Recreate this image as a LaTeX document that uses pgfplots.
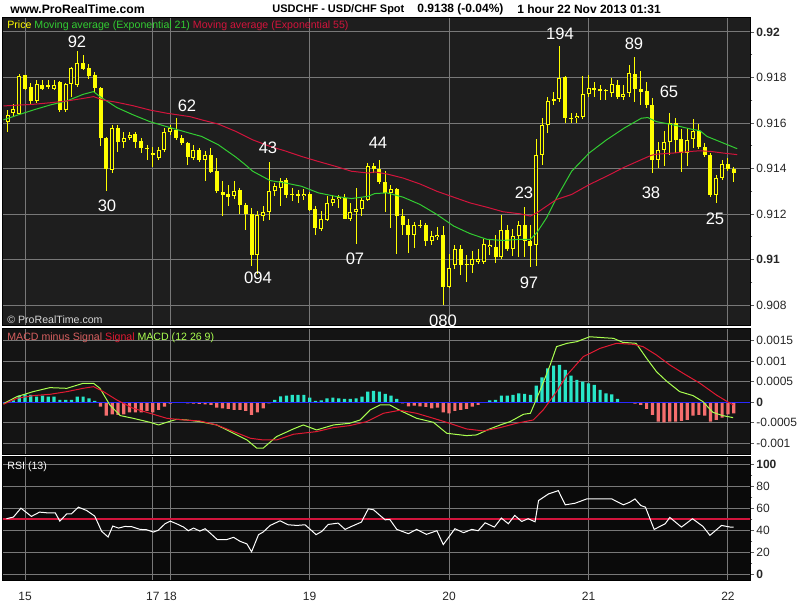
\documentclass[border=0pt]{standalone}
\usepackage{pgfplots}
\pgfplotsset{compat=1.18}
\usepackage{pgfplotstable}
\usepackage{fontspec}
\setmainfont{Liberation Sans}

\definecolor{pricebg}{RGB}{30,30,30}
\definecolor{macdbg}{RGB}{20,20,20}
\definecolor{rsibg}{RGB}{10,10,10}
\definecolor{gridc}{RGB}{120,120,120}
\definecolor{candle}{RGB}{255,255,0}
\definecolor{emagreen}{RGB}{50,205,50}
\definecolor{emared}{RGB}{210,20,60}
\definecolor{macdline}{RGB}{170,255,80}
\definecolor{sigline}{RGB}{225,25,50}
\definecolor{histpos}{RGB}{40,230,200}
\definecolor{histneg}{RGB}{245,110,110}
\definecolor{zeroblue}{RGB}{40,40,255}
\definecolor{legsalmon}{RGB}{215,95,95}

% hourly candles, x = hours from 15 Nov 00:00 (weekend removed)
\pgfplotstableread{
x o h l c
-3 0.91606 0.91657 0.91560 0.91638
-2 0.91643 0.91687 0.91628 0.91662
-1 0.91643 0.91815 0.91636 0.91810
0 0.91810 0.91813 0.91745 0.91752
1 0.91759 0.91778 0.91679 0.91697
2 0.91697 0.91789 0.91687 0.91770
3 0.91770 0.91789 0.91745 0.91752
4 0.91767 0.91789 0.91749 0.91759
5 0.91752 0.91789 0.91745 0.91770
6 0.91778 0.91784 0.91650 0.91657
7 0.91657 0.91778 0.91650 0.91770
8 0.91770 0.91847 0.91716 0.91840
9 0.91770 0.91920 0.91759 0.91866
10 0.91866 0.91898 0.91832 0.91840
11 0.91843 0.91861 0.91796 0.91808
12 0.91810 0.91825 0.91738 0.91755
13 0.91755 0.91759 0.91497 0.91536
14 0.91536 0.91540 0.91300 0.91400
15 0.91395 0.91592 0.91380 0.91577
16 0.91577 0.91592 0.91475 0.91519
17 0.91519 0.91563 0.91490 0.91536
18 0.91536 0.91563 0.91526 0.91551
19 0.91551 0.91563 0.91490 0.91519
20 0.91522 0.91533 0.91468 0.91490
21 0.91493 0.91504 0.91439 0.91487
22 0.91468 0.91497 0.91410 0.91461
23 0.91449 0.91497 0.91439 0.91482
24 0.91482 0.91577 0.91475 0.91560
25 0.91560 0.91592 0.91548 0.91577
26 0.91570 0.91620 0.91526 0.91536
27 0.91536 0.91548 0.91504 0.91512
28 0.91512 0.91519 0.91417 0.91449
29 0.91449 0.91504 0.91439 0.91482
30 0.91482 0.91493 0.91431 0.91439
31 0.91439 0.91475 0.91344 0.91461
32 0.91461 0.91490 0.91380 0.91388
33 0.91391 0.91446 0.91293 0.91300
34 0.91300 0.91344 0.91191 0.91286
35 0.91290 0.91326 0.91235 0.91278
36 0.91278 0.91344 0.91264 0.91303
37 0.91305 0.91315 0.91201 0.91239
38 0.91242 0.91249 0.91133 0.91201
39 0.91201 0.91227 0.90972 0.91020
40 0.91020 0.91213 0.90940 0.91195
41 0.91191 0.91235 0.91169 0.91210
42 0.91210 0.91430 0.91176 0.91303
43 0.91303 0.91337 0.91278 0.91322
44 0.91315 0.91358 0.91235 0.91347
45 0.91351 0.91358 0.91271 0.91286
46 0.91289 0.91318 0.91259 0.91283
47 0.91289 0.91307 0.91249 0.91278
48 0.91278 0.91312 0.91264 0.91289
49 0.91289 0.91300 0.91216 0.91220
50 0.91224 0.91235 0.91108 0.91137
51 0.91137 0.91213 0.91125 0.91181
52 0.91176 0.91278 0.91169 0.91249
53 0.91249 0.91283 0.91235 0.91268
54 0.91264 0.91283 0.91227 0.91274
55 0.91271 0.91286 0.91176 0.91181
56 0.91181 0.91249 0.91169 0.91210
57 0.91210 0.91315 0.91070 0.91224
58 0.91224 0.91271 0.91191 0.91264
59 0.91264 0.91424 0.91259 0.91410
60 0.91410 0.91424 0.91380 0.91400
61 0.91400 0.91440 0.91332 0.91341
62 0.91341 0.91388 0.91210 0.91293
63 0.91293 0.91329 0.91140 0.91312
64 0.91312 0.91315 0.91026 0.91191
65 0.91191 0.91220 0.91108 0.91154
66 0.91154 0.91176 0.91030 0.91108
67 0.91108 0.91166 0.91052 0.91154
68 0.91154 0.91176 0.91137 0.91147
69 0.91154 0.91162 0.91060 0.91081
70 0.91084 0.91125 0.91067 0.91103
71 0.91099 0.91143 0.91089 0.91111
72 0.91111 0.91147 0.90800 0.90880
73 0.90880 0.91023 0.90877 0.90962
74 0.90976 0.91067 0.90958 0.91045
75 0.91045 0.91067 0.90933 0.90976
76 0.90982 0.91023 0.90904 0.90976
77 0.90976 0.91038 0.90943 0.91001
78 0.90991 0.91045 0.90982 0.91001
79 0.90991 0.91089 0.90982 0.91070
80 0.91055 0.91089 0.91023 0.91067
81 0.91055 0.91111 0.90987 0.91011
82 0.91011 0.91195 0.91001 0.91133
83 0.91133 0.91154 0.91038 0.91049
84 0.91049 0.91137 0.91016 0.91103
85 0.91103 0.91169 0.91011 0.91154
86 0.91154 0.91230 0.91009 0.91084
87 0.91084 0.91154 0.90970 0.91060
88 0.91067 0.91531 0.90972 0.91461
89 0.91461 0.91621 0.91417 0.91592
90 0.91592 0.91716 0.91555 0.91697
91 0.91697 0.91738 0.91679 0.91705
92 0.91705 0.91940 0.91691 0.91800
93 0.91803 0.91806 0.91600 0.91621
94 0.91621 0.91643 0.91600 0.91624
95 0.91621 0.91643 0.91600 0.91633
96 0.91628 0.91810 0.91621 0.91730
97 0.91730 0.91810 0.91716 0.91755
98 0.91755 0.91781 0.91716 0.91745
99 0.91749 0.91767 0.91701 0.91740
100 0.91745 0.91752 0.91701 0.91743
101 0.91730 0.91799 0.91716 0.91770
102 0.91770 0.91789 0.91708 0.91716
103 0.91716 0.91770 0.91701 0.91730
104 0.91730 0.91857 0.91716 0.91818
105 0.91818 0.91890 0.91694 0.91749
106 0.91749 0.91828 0.91679 0.91738
107 0.91740 0.91781 0.91665 0.91679
108 0.91679 0.91708 0.91380 0.91439
109 0.91439 0.91519 0.91402 0.91482
110 0.91482 0.91566 0.91410 0.91519
111 0.91519 0.91647 0.91461 0.91600
112 0.91600 0.91621 0.91468 0.91526
113 0.91531 0.91577 0.91388 0.91468
114 0.91468 0.91577 0.91410 0.91526
115 0.91531 0.91621 0.91490 0.91566
116 0.91566 0.91595 0.91487 0.91497
117 0.91497 0.91512 0.91453 0.91461
118 0.91461 0.91468 0.91274 0.91283
119 0.91286 0.91373 0.91250 0.91358
120 0.91358 0.91439 0.91351 0.91420
121 0.91420 0.91446 0.91388 0.91400
122 0.91400 0.91405 0.91341 0.91380
}\candles

\pgfplotsset{
  panel/.style={
    scale only axis, width=373.5pt, anchor=north west,
    xmin=-3.79, xmax=124.8,
    axis line style={black, line width=0.5pt},
    xtick={0,22,25,49,73,97,121}, xticklabels={},
    xtick style={draw=none},
    ytick pos=right, yticklabel pos=right,
    tick align=outside,
    major tick length=2pt, minor tick length=1.2pt,
    ytick style={draw=black!65, line width=0.4pt},
    grid=major,
    major grid style={draw=gridc, line width=0.5pt},
    scaled ticks=false,
    tick label style={font=\fontsize{6}{7}\selectfont, text=black!85},
    yticklabel style={inner xsep=1pt},
  },
  candlebar/.style={draw=none, mark=none, error bars/.cd, y dir=both, y explicit,
    error mark=none, error bar style={#1}},
}

\begin{document}
\begin{tikzpicture}
\fill[white] (0,0) rectangle (400pt,300pt);

% price panel
\begin{axis}[panel, at={(1.5pt,291pt)}, height=154pt,
  ymin=0.90708, ymax=0.920615,
  axis background/.style={fill=pricebg},
  ytick={0.908,0.91,0.912,0.914,0.916,0.918,0.92},
  yticklabels={0.908,\textbf{0.91},0.912,0.914,0.916,0.918,\textbf{0.92}},
  minor ytick={0.909,0.911,0.913,0.915,0.917,0.919}]
% wicks
\addplot[candlebar={draw=candle, line width=0.5pt}]
  table[x=x, y expr={(\thisrow{h}+\thisrow{l})/2},
        y error expr={(\thisrow{h}-\thisrow{l})/2}] {\candles};
% bodies
\addplot[candlebar={draw=candle, line width=2pt}]
  table[x=x, y expr={(\thisrow{o}+\thisrow{c})/2},
        y error expr={max(abs(\thisrow{c}-\thisrow{o})/2,0.000022)}] {\candles};
% hollow inside of rising candles
\addplot[candlebar={draw=pricebg, line width=1pt}]
  table[x=x, y expr={(\thisrow{o}+\thisrow{c})/2},
        y error expr={max((\thisrow{c}-\thisrow{o})/2-0.000044,0)}] {\candles};
% EMA 21
\addplot[emagreen, line width=0.5pt] coordinates {
(-3.7,0.91614) (-0.9,0.91638) (1.4,0.91657) (4.3,0.91679) (7.2,0.91697) (10,0.91726)
(11.8,0.91738) (12.9,0.91716) (15.8,0.91668) (18.6,0.91636) (21.5,0.91606) (24.4,0.91584)
(28.4,0.91555) (30.4,0.91541) (33.3,0.91504) (36.3,0.91450) (38,0.91415) (39.2,0.91388)
(42.2,0.91347) (44.7,0.91337) (47.6,0.91322) (50.5,0.91293) (53.4,0.91278) (56.2,0.91268)
(59.1,0.91278) (60.2,0.91290) (62.3,0.91293) (65.1,0.91274) (68,0.91242) (70.9,0.91198)
(73.8,0.91147) (76.6,0.91114) (79.5,0.91089) (82.3,0.91084) (85.2,0.91089) (87,0.91089)
(88.1,0.91118) (89.8,0.91184) (91.5,0.91271) (94.1,0.91388) (97.1,0.91468) (100.1,0.91526)
(103.1,0.91577) (106.1,0.91621) (107.2,0.91624) (108.7,0.91606) (111.6,0.91592) (114.5,0.91574)
(116.2,0.91566) (117.4,0.91541) (120.2,0.91512) (122.6,0.91487)};
% EMA 55
\addplot[emared, line width=0.5pt] coordinates {
(-3.7,0.91675) (-0.9,0.91679) (1.4,0.91682) (4.3,0.91689) (7.2,0.91697) (10,0.91708)
(11.8,0.91716) (13.5,0.91701) (15.8,0.91691) (18.6,0.91676) (21.5,0.91657) (24.4,0.91643)
(28.4,0.91628) (30.4,0.91614) (33.3,0.91595) (36.3,0.91563) (39.2,0.91526) (42.2,0.91497)
(44.7,0.91478) (47.6,0.91453) (50.5,0.91431) (53.4,0.91410) (56.2,0.91388) (59.1,0.91380)
(60.2,0.91385) (62.3,0.91376) (65.1,0.91358) (68,0.91332) (70.9,0.91300) (73.8,0.91274)
(76.6,0.91249) (79.5,0.91230) (82.3,0.91210) (85.2,0.91201) (87,0.91191) (88.1,0.91205)
(89.8,0.91235) (91.5,0.91264) (94.1,0.91286) (97.1,0.91329) (100.1,0.91366) (103.1,0.91405)
(106.1,0.91439) (107.8,0.91458) (108.7,0.91463) (111.6,0.91468) (114.5,0.91475) (116.2,0.91478)
(118.1,0.91475) (120.2,0.91468) (122.6,0.91461)};
\end{axis}

% MACD panel
\begin{axis}[panel, at={(1.5pt,135.5pt)}, height=63pt,
  ymin=-0.001286, ymax=0.001789,
  axis background/.style={fill=macdbg},
  ytick={-0.001,-0.0005,0,0.0005,0.001,0.0015},
  yticklabels={-0.001,-0.0005,\textbf{0},0.0005,0.001,0.0015}]
\addplot[ybar, bar width=0.55, bar shift=0pt, fill=histpos, draw=none] coordinates {
(-3,0.000016) (-2,0.000049) (-1,0.000163) (0,0.000195) (1,0.000179) (2,0.000138) (3,0.000163)
(4,0.000138) (5,0.000138) (6,0.000057) (7,0.000057) (8,0.000057) (9,0.000138) (10,0.000138)
(11,0.000098) (12,0.000033)
(43,0.000057) (44,0.000146) (45,0.000163) (46,0.000179) (47,0.000179) (48,0.000179) (49,0.000114)
(50,0.000033) (51,0.000049) (52,0.000098) (53,0.000114) (54,0.000098) (55,0.000081) (56,0.000081)
(57,0.000098) (58,0.000138) (59,0.00026) (60,0.000276) (61,0.00026) (62,0.000203) (63,0.000163)
(64,0.000081)
(80,0.000049) (81,0.000057) (82,0.000163) (83,0.000163) (84,0.000179) (85,0.00022) (86,0.000203)
(87,0.000179) (88,0.000407) (89,0.00061) (90,0.000829) (91,0.000894) (92,0.000911) (93,0.000789)
(94,0.00065) (95,0.000545) (96,0.000504) (97,0.000463) (98,0.000423) (99,0.000301) (100,0.00022)
(101,0.000195) (102,0.000081)};
\addplot[ybar, bar width=0.55, bar shift=0pt, fill=histneg, draw=none] coordinates {
(13,-0.000106) (14,-0.000325) (15,-0.000293) (16,-0.000309) (17,-0.000293) (18,-0.000244)
(19,-0.000244) (20,-0.000244) (21,-0.000211) (22,-0.000244) (23,-0.000187) (24,-0.000106)
(25,-0.000033) (26,-0.000016) (28,-0.000024) (29,-0.000033) (30,-0.000041) (31,-0.000049)
(32,-0.000065) (33,-0.00013) (34,-0.000146) (35,-0.000163) (36,-0.000187) (37,-0.000187)
(38,-0.000211) (39,-0.000309) (40,-0.000244) (41,-0.000146) (42,-0.000024)
(65,-0.000024) (66,-0.000098) (67,-0.000081) (68,-0.000098) (69,-0.000114) (70,-0.000146)
(71,-0.00013) (72,-0.000244) (73,-0.000268) (74,-0.000211) (75,-0.000187) (76,-0.000163)
(77,-0.000106) (78,-0.000065)
(105,-0.000033) (106,-0.000065) (107,-0.000163) (108,-0.000309) (109,-0.000472) (110,-0.000488)
(111,-0.000472) (112,-0.000472) (113,-0.000455) (114,-0.000431) (115,-0.000325) (116,-0.000309)
(117,-0.000325) (118,-0.000472) (119,-0.000431) (120,-0.000374) (121,-0.000293) (122,-0.000268)};
\addplot[zeroblue, line width=0.5pt] coordinates {(-4,0) (125,0)};
% MACD line
\addplot[macdline, line width=0.5pt] coordinates {
(-3.7,-0.000033) (-1.4,0.000138) (1.4,0.00026) (4.3,0.000358) (7.2,0.000341) (10,0.000463)
(11.8,0.000463) (12.9,0.000341) (14.6,-0.000065) (16.4,-0.000325) (18.6,-0.00039) (21.5,-0.000488)
(23,-0.000553) (24.4,-0.000488) (26.1,-0.000415) (27.8,-0.000431) (30.1,-0.000472) (33,-0.000553)
(35.9,-0.000756) (38.2,-0.000919) (39.9,-0.00112) (41,-0.00112) (43.3,-0.000837) (46.2,-0.00065)
(47.9,-0.000553) (50.2,-0.000675) (53.1,-0.000553) (55.9,-0.000512) (57.7,-0.000431) (59.4,-0.000187)
(61.1,-0.000065) (62.8,-0.000065) (64.5,-0.000195) (67.4,-0.00039) (70.3,-0.000488) (72.6,-0.000756)
(76,-0.000813) (77.7,-0.000797) (80,-0.00065) (81.8,-0.000553) (83.5,-0.000472) (85.8,-0.000293)
(87,-0.000268) (88.7,0.000301) (90.4,0.000911) (91.5,0.001358) (93.3,0.001439) (95,0.00148)
(97.2,0.0016) (99.5,0.001577) (101.3,0.001561) (102.9,0.001463) (105.2,0.001439) (107,0.001073)
(108.7,0.000748) (110.4,0.00052) (112.7,0.00026) (115,0.000163) (116.7,0.000016) (118.4,-0.000244)
(120.1,-0.000325) (121.9,-0.000374)};
% signal line
\addplot[sigline, line width=0.5pt] coordinates {
(-3.7,-0.000049) (-1.4,0.000098) (1.4,0.000163) (4.3,0.000195) (7.2,0.00026) (10,0.000341)
(11.8,0.000382) (13.5,0.00026) (15.8,0.000057) (18.6,-0.000146) (21.5,-0.000268) (24.4,-0.00039)
(27.3,-0.000431) (30.1,-0.000455) (33,-0.000553) (35.9,-0.000715) (38.8,-0.000878) (41,-0.000919)
(43.3,-0.000919) (46.2,-0.00078) (50.2,-0.000715) (53.1,-0.000618) (55.9,-0.000569) (58.8,-0.000472)
(61.7,-0.000268) (64.5,-0.000195) (67.4,-0.000268) (70.3,-0.00039) (73.1,-0.000512) (76,-0.00065)
(78.9,-0.000699) (81.8,-0.000618) (84.6,-0.000512) (87.5,-0.000431) (89.2,-0.000187) (91.5,0.00026)
(93.3,0.000667) (96.1,0.001114) (99,0.001317) (101.8,0.001439) (104.7,0.001415) (106.4,0.001358)
(108.7,0.001154) (111,0.000911) (113.3,0.000707) (116.2,0.000463) (119,0.000179) (120.7,0.000033)
(121.9,-0.000065)};
\end{axis}

% RSI panel
\begin{axis}[panel, at={(1.5pt,71.5pt)}, height=62pt,
  ymin=-6.1, ymax=106.6,
  axis background/.style={fill=rsibg},
  ytick={0,20,40,60,80,100},
  yticklabels={\textbf{0},20,40,60,80,\textbf{100}},
  minor ytick={10,30,50,70,90},
  xticklabels={15,17,18,19,20,21,22}]
\addplot[emared, line width=0.9pt] coordinates {(-4,50) (125,50)};
\addplot[white, line width=0.5pt] coordinates {
(-3.2,50.5) (-2,52.0) (-0.7,60.1) (1.1,52.6) (2.5,56.5) (3.7,55.9) (5.2,55.9) (6,48.3)
(7.2,55.0) (8,55.0) (9.2,61.0) (10.6,58.0) (12,52.9) (13.2,39.0) (14.3,33.9) (15.1,43.8)
(16.1,42.0) (17.2,43.5) (18.4,43.2) (19.8,40.8) (20.9,40.5) (22.1,38.4) (22.9,39.9) (24.1,45.9)
(25,48.3) (26.1,45.9) (27.3,42.9) (28.1,39.6) (29,42.0) (30.1,39.3) (31,41.4) (31.8,37.8)
(33.1,31.5) (34.7,31.5) (35.9,33.6) (37,30.0) (38.2,27.6) (39,20.4) (40.2,36.0) (41,38.4)
(42.2,44.4) (43.9,48.6) (45.3,45.0) (46.8,44.4) (48.2,45.0) (49.3,39.9) (50.1,36.0) (51.1,39.0)
(52.2,45.3) (53.9,46.5) (55.1,40.8) (56.2,43.5) (57.9,47.4) (59.1,59.5) (60,58.6) (61.1,53.5)
(62,49.5) (62.8,49.8) (64,40.8) (66,36.9) (67.4,40.8) (69.1,36.3) (70.9,39.6) (72,27.0)
(74,41.4) (75.5,37.8) (76.9,40.8) (78,39.6) (79.2,46.8) (80.8,42.9) (82,51.1) (83.2,45.9)
(84.3,53.5) (85.5,48.0) (86.6,50.5) (87.8,47.7) (88.4,67.0) (90.1,73.0) (91.8,76.0) (93,63.1)
(94.7,64.6) (96.7,68.5) (99,68.5) (101,68.5) (103,63.1) (104.1,65.5) (105,68.5) (106,62.5)
(106.8,61.0) (108.3,40.8) (110.2,45.9) (111,51.7) (113,42.9) (114.9,50.5) (116.7,43.5) (117.9,35.4)
(119.9,44.4) (121.4,42.9) (122,42.9)};
\end{axis}

% texts, positioned in pixel units of the 800x600 picture
\begin{scope}[x=0.5pt, y=0.5pt]
\begin{scope}[font=\bfseries\fontsize{6}{7}\selectfont]
\node[anchor=west, inner sep=0] at (10,590.5) {\fontsize{6.1}{7}\selectfont www.ProRealTime.com};
\node[anchor=west, inner sep=0] at (272,590.5) {\fontsize{5.5}{7}\selectfont USDCHF - USD/CHF Spot};
\node[anchor=west, inner sep=0] at (417,590.5) {0.9138 (-0.04\%)};
\node[anchor=west, inner sep=0] at (517,590.5) {1 hour};
\node[anchor=west, inner sep=0] at (557,590.5) {22 Nov 2013 01:31};
\end{scope}
\begin{scope}[font=\fontsize{5.3}{6}\selectfont]
\node[anchor=west, inner sep=0] at (7,574) {\textcolor{candle}{Price} \textcolor{emagreen}{Moving average (Exponential 21)} \textcolor{emared}{Moving average (Exponential 55)}};
\node[anchor=west, inner sep=0, text=black!15] at (7,280) {\textcopyright{} ProRealTime.com};
\node[anchor=west, inner sep=0] at (7,262) {\textcolor{legsalmon}{MACD minus Signal} \textcolor{sigline}{Signal} \textcolor{macdline}{MACD (12 26 9)}};
\node[anchor=west, inner sep=0, text=white] at (7,133) {RSI (13)};
\end{scope}
\begin{scope}
\clip (3,274) rectangle (750,582);
\begin{scope}[font=\fontsize{8.3}{9}\selectfont, text=white]
\node at (77,558) {92};
\node at (187,494) {62};
\node at (268,452) {43};
\node at (378,457) {44};
\node at (107,394) {30};
\node at (258,322) {094};
\node at (355,341) {07};
\node at (443,279) {080};
\node at (524,407) {23};
\node at (529,317) {97};
\node at (560,566) {194};
\node at (634,556) {89};
\node at (669,508) {65};
\node at (651,407) {38};
\node at (715,381) {25};
\end{scope}
\end{scope}
\end{scope}
\end{tikzpicture}
\end{document}
